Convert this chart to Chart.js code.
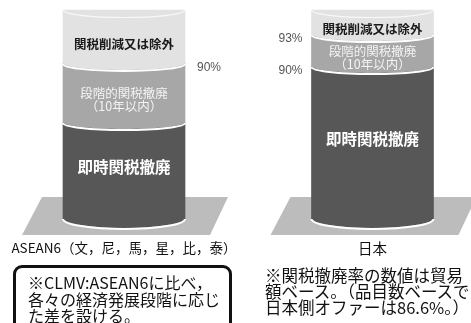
<!DOCTYPE html>
<html lang="ja">
<head>
<meta charset="UTF-8">
<title>関税撤廃率</title>
<script src="https://cdn.jsdelivr.net/npm/chart.js"></script>
<style>
  body { margin: 0; background: #fff; width: 471px; height: 323px; overflow: hidden; position: relative;
         font-family: "Noto Sans CJK JP", sans-serif; color: #111; }
  #chart { position: absolute; left: 0; top: 0; }
  .note { position: absolute; white-space: nowrap; }
  #noteL { left: 13px; top: 265px; width: 219px; height: 75px; border: 3px solid #111; border-radius: 9px;
           box-sizing: border-box; padding: 6px 0 0 12px; font-size: 16px; line-height: 16.5px; }
  #noteR { left: 265px; top: 267px; font-size: 16.5px; line-height: 16px; }
</style>
</head>
<body>
<canvas id="chart" width="471" height="323"></canvas>
<div class="note" id="noteL">※CLMV:ASEAN6に比べ，<br>各々の経済発展段階に応じ<br>た差を設ける。</div>
<div class="note" id="noteR">※関税撤廃率の数値は貿易<br>額ベース。（品目数ベースでは<br>日本側オファーは86.6%。）</div>

<script>
  // heights of each band as drawn (schematic, bottom to top)
  const categories = ["ASEAN6（文，尼，馬，星，比，泰）", "日本"];
  const immediate = [45.9, 72.7];
  const staged = [28.3, 15.3];
  const excluded = [25.8, 12.0];

  // percentage marks shown at the top of a band
  const immediateMarks = [null, "90%"];
  const stagedMarks = ["90%", "93%"];

  const bandNames = [["即時関税撤廃"], ["段階的関税撤廃", "（10年以内）"], ["関税削減又は除外"]];

  const COLORS = ["#575757", "#a7a7a7", "#e2e2e2"];
  const CAP = "#eeeeee", FLOOR = "#bcbcbc";
  const CJK = '"Noto Sans CJK JP", sans-serif';
  const K = 0.5523;

  // half ellipse path through bezier curves; dir 1 = lower half, -1 = upper half
  function halfEllipse(ctx, x, y, rx, ry, dir, moveFirst) {
    const h = ry * dir;
    if (moveFirst) ctx.moveTo(x + rx, y);
    ctx.bezierCurveTo(x + rx, y + K * h, x + K * rx, y + h, x, y + h);
    ctx.bezierCurveTo(x - K * rx, y + h, x - rx, y + K * h, x - rx, y);
  }

  const cylinders = {
    id: "cylinders",
    beforeDatasetsDraw(chart) {
      const ctx = chart.ctx;
      chart.getDatasetMeta(0).data.forEach(bar => {
        const cx = bar.x, b = bar.base;
        ctx.save();
        ctx.fillStyle = FLOOR;
        ctx.beginPath();
        ctx.moveTo(cx - 82, b - 22);
        ctx.lineTo(cx + 104, b - 22);
        ctx.lineTo(cx + 86, b + 16);
        ctx.lineTo(cx - 102, b + 16);
        ctx.closePath();
        ctx.fill();
        ctx.restore();
      });
    },
    afterDraw(chart) {
      const ctx = chart.ctx;
      const metas = [0, 1, 2].map(i => chart.getDatasetMeta(i));

      // rounded bottoms of each band with a white rim
      metas.forEach((meta, i) => {
        meta.data.forEach(bar => {
          const rx = bar.width / 2, ry = i === 0 ? 10 : 7;
          ctx.save();
          ctx.beginPath();
          halfEllipse(ctx, bar.x, bar.base - 1, rx, ry, 1, true);
          ctx.closePath();
          ctx.fillStyle = COLORS[i];
          ctx.fill();
          ctx.beginPath();
          halfEllipse(ctx, bar.x, bar.base, rx, ry, 1, true);
          ctx.strokeStyle = "#ffffff";
          ctx.lineWidth = 2;
          ctx.stroke();
          ctx.restore();
        });
      });

      // top caps
      metas[2].data.forEach(bar => {
        const rx = bar.width / 2;
        ctx.save();
        ctx.beginPath();
        halfEllipse(ctx, bar.x, bar.y, rx, 7.5, -1, true);
        halfEllipse(ctx, bar.x - 0, bar.y, -rx, 7.5, -1, false);
        ctx.closePath();
        ctx.fillStyle = CAP;
        ctx.fill();
        ctx.beginPath();
        halfEllipse(ctx, bar.x, bar.y, rx, 7.5, 1, true);
        ctx.strokeStyle = "#f8f8f8";
        ctx.lineWidth = 1.2;
        ctx.stroke();
        ctx.restore();
      });

      // band names
      ctx.save();
      ctx.textAlign = "center";
      ctx.textBaseline = "middle";
      metas.forEach((meta, i) => {
        meta.data.forEach(bar => {
          const mid = (bar.y + bar.base) / 2;
          const lines = bandNames[i];
          if (i === 0) {
            ctx.font = "bold 15.5px " + CJK;
            ctx.fillStyle = "#fff";
            ctx.fillText(lines[0], bar.x, mid - 4);
          } else if (i === 1) {
            ctx.font = "12.5px " + CJK;
            ctx.fillStyle = "#f4f4f4";
            ctx.fillText(lines[0], bar.x, mid);
            ctx.fillText(lines[1], bar.x, mid + 13);
          } else {
            ctx.font = "bold 12.5px " + CJK;
            ctx.fillStyle = "#1a1a1a";
            ctx.fillText(lines[0], bar.x, mid + 7);
          }
        });
      });

      // percentage marks at band tops
      ctx.font = '12px "Liberation Sans", Arial, sans-serif';
      ctx.fillStyle = "#555";
      [[0, immediateMarks], [1, stagedMarks]].forEach(([i, marks]) => {
        metas[i].data.forEach((bar, j) => {
          if (!marks[j]) return;
          const y = bar.y + 4;
          if (j === 0) {
            ctx.textAlign = "left";
            ctx.fillText(marks[j], bar.x + bar.width / 2 + 12, y);
          } else {
            ctx.textAlign = "right";
            ctx.fillText(marks[j], bar.x - bar.width / 2 - 9, y);
          }
        });
      });

      // category names under the floors
      ctx.textAlign = "center";
      ctx.fillStyle = "#111";
      metas[0].data.forEach((bar, j) => {
        ctx.font = (j === 0 ? "13.5px " : "14.5px ") + CJK;
        ctx.fillText(categories[j], bar.x, bar.base + 29);
      });
      ctx.restore();
    }
  };

  new Chart(document.getElementById("chart"), {
    type: "bar",
    data: {
      labels: categories,
      datasets: [
        { label: "即時関税撤廃", data: immediate },
        { label: "段階的関税撤廃", data: staged },
        { label: "関税削減又は除外", data: excluded }
      ].map((d, i) => Object.assign(d, {
        backgroundColor: COLORS[i], barThickness: 122, borderWidth: 0, clip: false
      }))
    },
    options: {
      responsive: false,
      animation: false,
      devicePixelRatio: 1,
      layout: { padding: { left: 124, right: 98.5, top: 10, bottom: 104 } },
      plugins: { legend: { display: false }, tooltip: { enabled: false } },
      scales: {
        x: { display: false, stacked: true, offset: false },
        y: { display: false, stacked: true, min: 0, max: 100 }
      }
    },
    plugins: [cylinders]
  });
</script>
</body>
</html>
